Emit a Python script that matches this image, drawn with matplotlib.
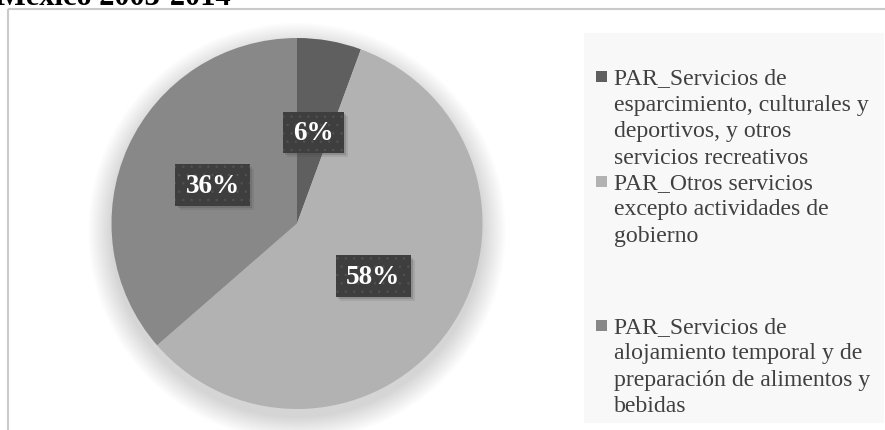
import matplotlib
matplotlib.use('Agg')
import matplotlib.pyplot as plt
from matplotlib.patches import Rectangle, Circle
from matplotlib.path import Path

# ---- data ----
categories = [
    "PAR_Servicios de\nesparcimiento, culturales y\ndeportivos, y otros\nservicios recreativos",
    "PAR_Otros servicios\nexcepto actividades de\ngobierno",
    "PAR_Servicios de\nalojamiento temporal y de\npreparación de alimentos y\nbebidas",
]
values = [5.6, 58.0, 36.4]
colors = ['#5f5f5f', '#b2b2b2', '#888888']
title_text = "México 2003-2014"

W, H = 885, 431
plt.rcParams['hatch.linewidth'] = 0.5
fig = plt.figure(figsize=(W / 100, H / 100), dpi=100)
fig.patch.set_facecolor('white')
ax = fig.add_axes([0, 0, 1, 1])


def Y(y):
    return H - y


def label_box(x0, y0, width, height, mutation_size):
    px = 0.38 * mutation_size
    py = 0.3 * mutation_size
    x0, y0 = x0 - px, y0 - py
    x1, y1 = x0 + width + 2 * px, y0 + height + 2 * py
    return Path([(x0, y0), (x1, y0), (x1, y1), (x0, y1), (x0, y0)], closed=True)


cx, cy, R = 297, 224.5, 185.5

# soft shadow around pie
for i in range(14):
    ax.add_patch(Circle((cx, Y(cy + 8)), R + 1 + i * 1.7, facecolor='black',
                        alpha=0.012, lw=0, zorder=1))

wedges, texts, autotexts = ax.pie(
    values, colors=colors, startangle=90, counterclock=False,
    center=(cx, Y(cy)), radius=R, frame=True,
    autopct=lambda p: f'{p:.0f}%', pctdistance=0.5,
    wedgeprops=dict(linewidth=0, zorder=2),
    textprops=dict(color='white', fontfamily='Liberation Serif',
                   fontweight='bold', fontsize=19.5))
for w in wedges:
    w.set_zorder(2)

for t in autotexts:
    t.set_zorder(5)
    t.set_va('center')
    t.set_bbox(dict(boxstyle=label_box, facecolor='#3e3e3e',
                    edgecolor='#525252', linewidth=0, hatch='..'))

ax.set_aspect('auto')
ax.set_xlim(0, W)
ax.set_ylim(0, H)
ax.axis('off')

# soft shadows behind the label boxes (axes units are pixels)
fig.canvas.draw()
for t in autotexts:
    bb = t.get_bbox_patch().get_window_extent()
    for dx, a in [(2.5, 0.22), (4.5, 0.12)]:
        ax.add_patch(Rectangle((bb.x0 + dx, bb.y0 - dx), bb.width, bb.height,
                               facecolor='#444444', alpha=a, lw=0, zorder=4))

# chart border (partially visible)
ax.plot([8, 8], [Y(10), 0], color='#cacaca', lw=1.5, zorder=0, solid_capstyle='butt')
ax.plot([8, W], [Y(10), Y(10)], color='#cacaca', lw=1.5, zorder=0, solid_capstyle='butt')

# cropped title (only its lower edge shows, as in the reference)
ax.text(231, Y(5), title_text, ha='right', va='baseline',
        fontfamily='Liberation Serif', fontweight='bold', fontsize=22,
        color='black', clip_on=False)

# legend
ax.add_patch(Rectangle((584, Y(424)), 300, 390, facecolor='#f8f8f8',
                       edgecolor='none', zorder=1))
entry_baselines = [84, 189, 333]
line_h = 26.5
for lab, col, yb in zip(categories, colors, entry_baselines):
    for k, line in enumerate(lab.split('\n')):
        ax.text(614, Y(yb + k * line_h), line, fontfamily='Liberation Serif',
                fontsize=17.1, color='#404040', va='baseline', ha='left', zorder=3)
    ax.add_patch(Rectangle((596, Y(yb - 1)), 11, 11, facecolor=col, lw=0, zorder=3))

fig.savefig('out.png', dpi=100, facecolor='white')
